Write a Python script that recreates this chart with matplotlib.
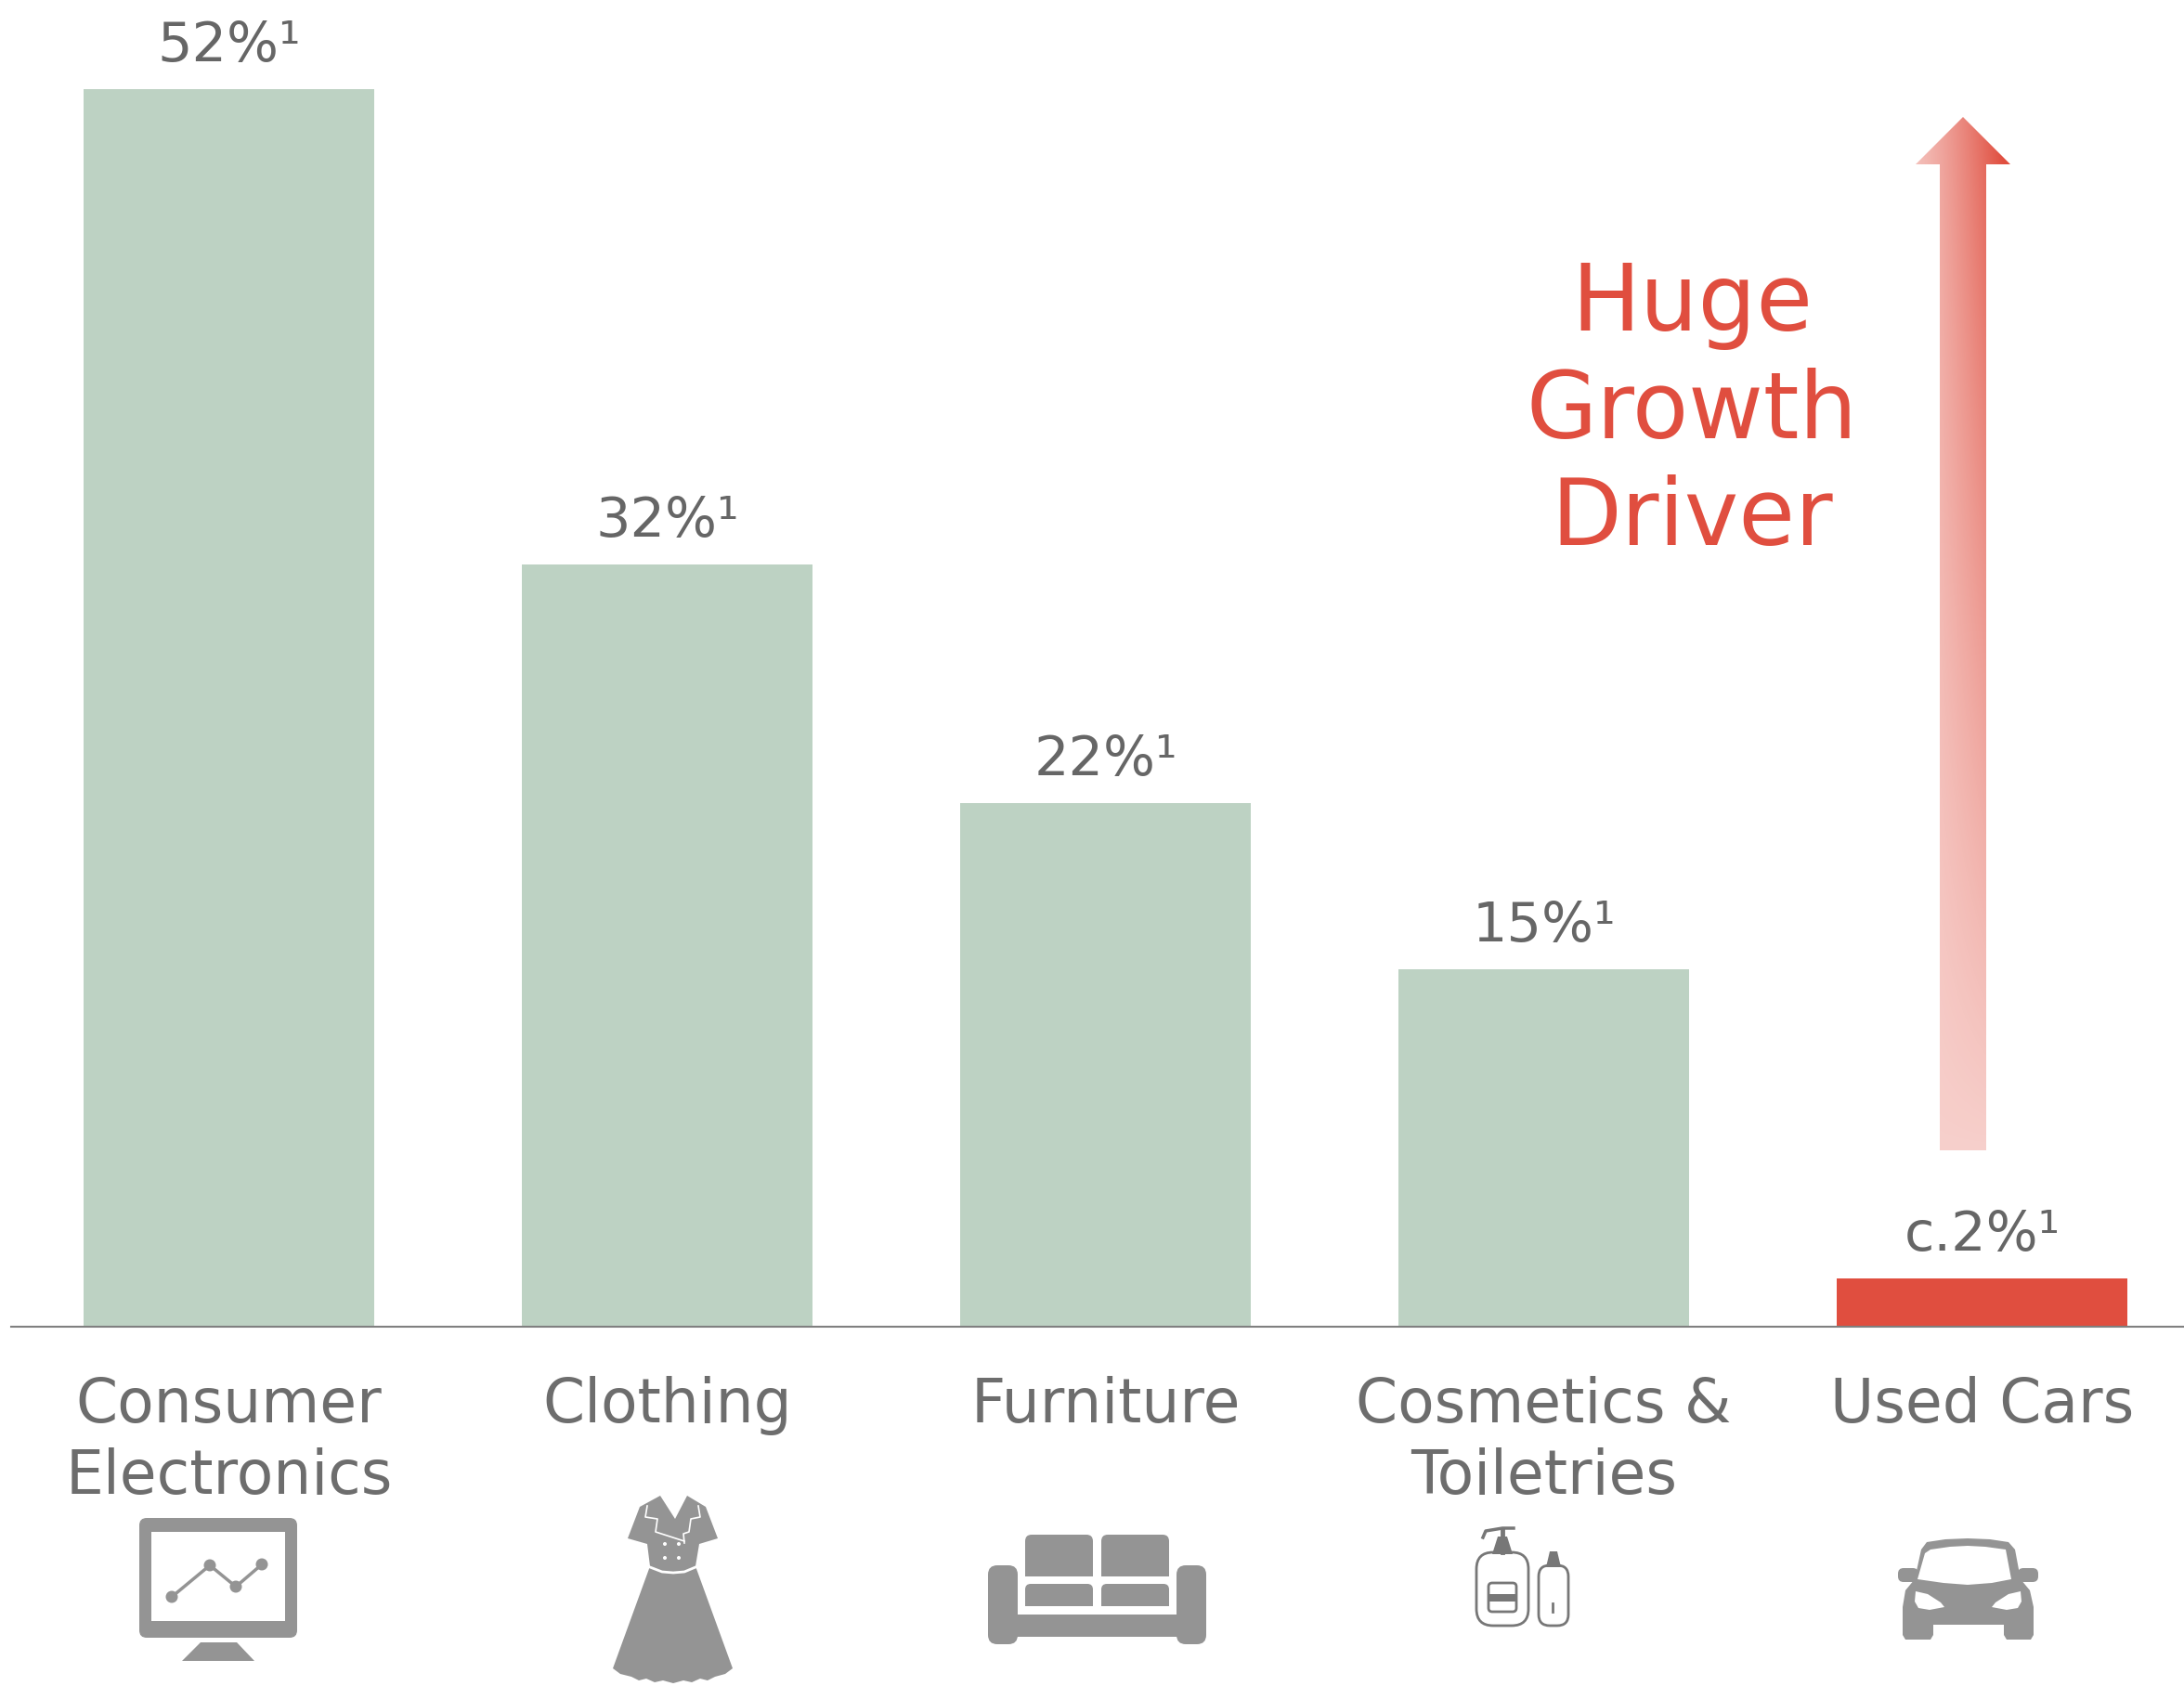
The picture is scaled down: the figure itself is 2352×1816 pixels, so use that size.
import numpy as np
import matplotlib
matplotlib.use("Agg")
import matplotlib.pyplot as plt
from matplotlib.patches import Polygon, Circle, Rectangle, FancyBboxPatch

categories = ["Consumer\nElectronics", "Clothing", "Furniture", "Cosmetics &\nToiletries", "Used Cars"]
values = [52, 32, 22, 15, 2]
value_labels = ["52%¹", "32%¹", "22%¹", "15%¹", "c.2%¹"]

GREEN = "#bdd2c3"
RED = "#e04e3f"
TEXT = "#6d6d6d"
ICON = "#949494"
LINE_ICON = "#777777"

W, H = 2352, 1816
BASE_Y = 1428.5
PX_PER_UNIT = 25.63
SPACING = 472
FIRST_X = 246.5

plt.rcParams["font.family"] = ["DejaVu Sans"]

fig = plt.figure(figsize=(W / 100, H / 100), dpi=100, facecolor="white")

# main bars, axes runs from the left end of the base line to the right edge
ax = fig.add_axes([12 / W, 1 - BASE_Y / H, (W - 12) / W, BASE_Y / H])
x = np.arange(len(values))
colors = [GREEN] * 4 + [RED]
ax.bar(x, values, width=0.663, color=colors, linewidth=0)
ax.set_xlim((12 - FIRST_X) / SPACING, (W - FIRST_X) / SPACING)
ax.set_ylim(0, BASE_Y / PX_PER_UNIT)
ax.set_yticks([])
ax.set_xticks(x)
ax.set_xticklabels(categories, fontsize=46.5, color=TEXT, linespacing=1.27)
ax.tick_params(axis="x", length=0, pad=38.5)
for side in ["top", "left", "right"]:
    ax.spines[side].set_visible(False)
ax.spines["bottom"].set_color("#808080")
ax.spines["bottom"].set_linewidth(1.5)
ax.patch.set_alpha(0)

for xi, v, lab in zip(x, values, value_labels):
    ax.annotate(lab, (xi, v), xytext=(0, 21.5), textcoords="offset points", ha="center",
                va="baseline", fontsize=42.5, color="#666666", annotation_clip=False)

# overlay in pixel coords for arrow, callout and icons
ov = fig.add_axes([0, 0, 1, 1])
ov.set_xlim(0, W)
ov.set_ylim(H, 0)
ov.axis("off")
ov.patch.set_alpha(0)

# gradient arrow
arrow_pts = [(2089, 1239), (2089, 177), (2063, 177), (2114, 126), (2165, 177), (2139, 177), (2139, 1239)]
gx, gy = np.meshgrid(np.linspace(0, 1, 102), np.linspace(0, 1, 1113))
rgba = np.zeros(gx.shape + (4,))
rgba[..., 0] = 0xe0 / 255
rgba[..., 1] = 0x4e / 255
rgba[..., 2] = 0x3f / 255
rgba[..., 3] = np.clip(0.27 + 0.1 * (1 - gy) + 0.72 * gx ** 1.2 * (1 - gy), 0, 1)
im = ov.imshow(rgba, extent=(2063, 2165, 1239, 126), aspect="auto", zorder=2, interpolation="bilinear")
im.set_clip_path(Polygon(arrow_pts, closed=True, transform=ov.transData))
ov.set_xlim(0, W)
ov.set_ylim(H, 0)

for line, yb in zip(["Huge", "Growth", "Driver"], [356, 472, 587]):
    ov.text(1822, yb, line, ha="center", va="baseline", fontsize=71, color=RED)


def poly(pts, color=ICON, z=3):
    ov.add_patch(Polygon(pts, closed=True, facecolor=color, edgecolor="none", zorder=z))


def rbox(x0, y0, x1, y1, r, color=ICON, z=3, fill=True, lw=0.0):
    ov.add_patch(FancyBboxPatch((x0 + r, y0 + r), x1 - x0 - 2 * r, y1 - y0 - 2 * r,
                                boxstyle="round,pad=%f,rounding_size=%f" % (r, r),
                                facecolor=color if fill else "none",
                                edgecolor=color if lw else "none", linewidth=lw, zorder=z))


# monitor icon
rbox(150, 1635, 320, 1764, 8)
ov.add_patch(Rectangle((163, 1650), 144, 96, facecolor="white", edgecolor="none", zorder=4))
poly([(216, 1769), (255, 1769), (274, 1789), (196, 1789)])
mx = [185, 226, 254, 282]
my = [1720, 1686, 1709, 1685]
ov.plot(mx, my, color=ICON, lw=2.5, zorder=5)
for a, b in zip(mx, my):
    ov.add_patch(Circle((a, b), 6.5, facecolor=ICON, edgecolor="none", zorder=5))

# dress icon
dress = [(711, 1611), (689, 1623), (676, 1657), (697, 1663), (700, 1687), (660, 1797), (668, 1803),
         (680, 1806), (688, 1810), (696, 1808), (705, 1812), (714, 1810), (725, 1813), (736, 1810),
         (745, 1812), (754, 1808), (762, 1810), (770, 1806), (781, 1803), (789, 1797), (749, 1687),
         (753, 1663), (773, 1657), (760, 1623), (740, 1611), (727, 1636)]
poly(dress)
ov.plot([697, 695, 708, 706, 737], [1622, 1634, 1636, 1650, 1660], color="white", lw=1.2, zorder=4)
ov.plot([752, 754, 744, 742, 736, 737], [1622, 1634, 1636, 1650, 1652, 1662], color="white", lw=1.2, zorder=4)
ov.plot([700, 713, 725, 737, 749], [1688, 1693, 1694, 1693, 1688], color="white", lw=2, zorder=4)
for a, b in [(716, 1663), (731, 1663), (716, 1678), (731, 1678)]:
    ov.add_patch(Circle((a, b), 2, facecolor="white", edgecolor="none", zorder=4))

# sofa icon
rbox(1064, 1686, 1096, 1771, 10)
rbox(1267, 1686, 1299, 1771, 10)
ov.add_patch(Rectangle((1090, 1739), 184, 24, facecolor=ICON, edgecolor="none", zorder=3))
for x0, x1 in [(1104, 1177), (1186, 1259)]:
    rbox(x0, 1653, x1, 1698, 7)
    ov.add_patch(Rectangle((x0, 1671), x1 - x0, 27, facecolor=ICON, edgecolor="none", zorder=3))
    rbox(x0, 1706, x1, 1730, 6)
    ov.add_patch(Rectangle((x0, 1717), x1 - x0, 13, facecolor=ICON, edgecolor="none", zorder=3))

# bottles icon
rbox(1590, 1672, 1646, 1751, 18, color=LINE_ICON, fill=False, lw=2)
rbox(1657, 1686, 1689, 1751, 12, color=LINE_ICON, fill=False, lw=2)
ov.plot([1618, 1618], [1648, 1672], color=LINE_ICON, lw=3.5, zorder=3)
ov.plot([1597, 1600, 1618, 1630], [1656, 1649, 1646, 1646], color=LINE_ICON, lw=2.5, zorder=3)
poly([(1613, 1655), (1623, 1655), (1629, 1674), (1607, 1674)], color=LINE_ICON)
poly([(1669, 1671), (1677, 1671), (1681, 1688), (1665, 1688)], color=LINE_ICON)
rbox(1603, 1705, 1633, 1736, 4, color=LINE_ICON, fill=False, lw=2)
ov.add_patch(Rectangle((1603, 1717), 30, 8, facecolor=LINE_ICON, edgecolor="none", zorder=3))
ov.plot([1672, 1672], [1727, 1736], color=LINE_ICON, lw=2, zorder=3)

# car icon
poly([(2069, 1669), (2075, 1661), (2095, 1658), (2119, 1657), (2143, 1658), (2163, 1661), (2170, 1669),
      (2176, 1701), (2186, 1713), (2190, 1731), (2190, 1761), (2187, 1766), (2161, 1766), (2158, 1761),
      (2158, 1750), (2082, 1750), (2082, 1761), (2079, 1766), (2052, 1766), (2049, 1761), (2049, 1731),
      (2052, 1713), (2062, 1701)])
rbox(2044, 1689, 2066, 1704, 6)
rbox(2173, 1689, 2195, 1704, 6)
poly([(2079, 1669), (2100, 1666), (2119, 1665), (2138, 1666), (2160, 1669), (2166, 1701), (2145, 1705),
      (2119, 1707), (2093, 1705), (2065, 1701), (2073, 1673)], color="white", z=4)
poly([(2063, 1714), (2076, 1717), (2090, 1726), (2094, 1731), (2078, 1734), (2066, 1732), (2062, 1725)],
     color="white", z=4)
poly([(2176, 1714), (2163, 1717), (2149, 1726), (2145, 1731), (2161, 1734), (2173, 1732), (2177, 1725)],
     color="white", z=4)

fig.savefig("out.png", dpi=100, facecolor="white")
